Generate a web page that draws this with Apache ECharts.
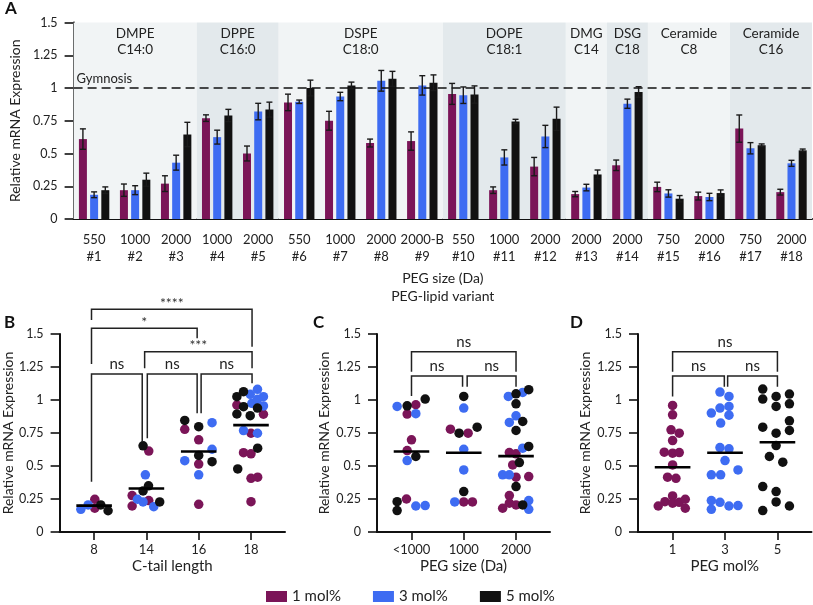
<!DOCTYPE html>
<html>
<head>
<meta charset="utf-8">
<script src="https://cdn.jsdelivr.net/npm/echarts/dist/echarts.min.js"></script>
<style>
html,body{margin:0;padding:0;background:#fff;}
#chart{width:813px;height:605px;}
</style>
</head>
<body>
<div id="chart"></div>
<script>
// ---------------- DATA ----------------
const variantIds = ['#1','#2','#3','#4','#5','#6','#7','#8','#9','#10','#11','#12','#13','#14','#15','#16','#17','#18'];
const pegSizes = ['550','1000','2000','1000','2000','550','1000','2000','2000-B','550','1000','2000','2000','2000','750','2000','750','2000'];
const lipidNames = ['DMPE\nC14:0','DPPE\nC16:0','DSPE\nC18:0','DOPE\nC18:1','DMG\nC14','DSG\nC18','Ceramide\nC8','Ceramide\nC16'];
const lipidFrom = [0,3,5,9,12,13,14,16];
const lipidTo   = [2,4,8,11,12,13,15,17];

// Panel A bar heights (1, 3, 5 mol%) and error half-widths
const a1 = [0.61,0.22,0.27,0.77,0.50,0.89,0.75,0.58,0.595,0.955,0.22,0.40,0.19,0.41,0.245,0.175,0.69,0.205];
const a3 = [0.185,0.22,0.43,0.625,0.82,0.895,0.935,1.055,1.02,0.945,0.47,0.63,0.24,0.88,0.195,0.168,0.54,0.425];
const a5 = [0.22,0.30,0.645,0.79,0.835,1.0,1.02,1.07,1.04,0.95,0.745,0.765,0.34,0.97,0.155,0.198,0.563,0.524];
const e1 = [0.078,0.047,0.06,0.025,0.057,0.063,0.072,0.03,0.07,0.08,0.025,0.07,0.02,0.04,0.036,0.03,0.104,0.022];
const e3 = [0.022,0.034,0.057,0.053,0.063,0.013,0.032,0.079,0.074,0.063,0.058,0.085,0.025,0.035,0.028,0.028,0.043,0.023];
const e5 = [0.025,0.05,0.093,0.047,0.057,0.06,0.025,0.057,0.06,0.066,0.016,0.089,0.034,0.04,0.024,0.024,0.01,0.01];
const gymnosis = 1;

const yTickLabels = ['0','0.25','0.5','0.75','1','1.25','1.5'];

// Panel B: C-tail length, points [x (category units), value]
const tailLabels = ['8','14','16','18'];
const b1 = [[0.013,0.248],[0.013,0.18],[1.045,0.613],[0.727,0.276],[1.045,0.238],[0.727,0.197],[1.733,0.778],[2.0,0.698],[2.0,0.515],[2.0,0.21],[2.73,0.962],[3.238,0.892],[3.0,0.748],[2.857,0.601],[3.0,0.592],[3.0,0.407],[3.127,0.415],[3.0,0.23]];
const b3 = [[-0.254,0.172],[-0.114,0.205],[0.98,0.433],[0.828,0.248],[0.936,0.228],[1.14,0.192],[2.255,0.828],[2.255,0.627],[1.733,0.54],[2.0,0.433],[2.985,1.043],[3.124,1.081],[3.238,1.025],[3.017,0.975],[3.124,1.005],[3.238,0.955],[2.857,0.768],[3.124,0.748]];
const b5 = [[0.127,0.205],[0.267,0.161],[0.936,0.653],[1.04,0.35],[0.936,0.311],[1.254,0.228],[1.733,0.845],[2.0,0.798],[2.0,0.58],[2.255,0.533],[2.73,1.025],[2.857,1.063],[2.857,0.949],[3.124,0.939],[2.73,0.894],[2.985,0.881],[3.127,0.635],[2.746,0.478]];
const meansB = [0.2,0.33,0.61,0.81];
// brackets: [x1, x2, yTop, yLeftEnd, yRightEnd, label]
const bracketsB = [
  [-0.05,3.02,1.687,1.606,1.404,'****'],
  [-0.05,1.97,1.543,1.273,1.467,'*'],
  [0.966,3.02,1.366,1.24,1.24,'***'],
  [-0.05,0.92,1.197,0.381,0.684,'ns'],
  [1.017,1.97,1.197,0.71,0.9,'ns'],
  [2.046,3.02,1.197,0.9,1.127,'ns']
];

// Panel C: PEG size
const sizeLabels = ['<1000','1000','2000'];
const c1 = [[0.083,0.964],[-0.083,0.893],[0,0.698],[-0.083,0.617],[-0.096,0.25],[0.745,0.779],[1.083,0.749],[1,0.228],[1.166,0.228],[1.872,0.602],[2,0.592],[1.936,0.508],[2,0.415],[2.243,0.42],[1.872,0.276],[1.744,0.18],[1.872,0.218],[2,0.205]];
const c3 = [[-0.275,0.951],[0.083,0.896],[-0.083,0.541],[0.083,0.197],[0.262,0.2],[1,0.939],[1,0.627],[1,0.47],[0.827,0.228],[1.853,1.027],[2.128,1.057],[2,0.88],[1.872,0.83],[2.128,0.635],[1.744,0.433],[1.872,0.433],[2.243,0.238],[2.243,0.172]];
const c5 = [[-0.083,0.956],[0.262,1.007],[0.083,0.572],[-0.275,0.23],[-0.275,0.162],[1,1.027],[0.911,0.749],[1.256,0.794],[1,0.306],[2,1.047],[2.243,1.078],[2,0.971],[2.128,0.837],[2,0.769],[2.243,0.648],[2.064,0.526],[2,0.344],[2.128,0.205]];
const meansC = [0.61,0.6,0.575];
const bracketsC = [
  [0,2,1.366,1.214,1.214,'ns'],
  [0,0.977,1.182,1.03,1.10,'ns'],
  [1.065,2,1.182,1.10,1.10,'ns']
];

// Panel D: PEG mol%
const molLabels = ['1','3','5'];
const d1 = [[0,0.959],[0,0.888],[-0.03,0.774],[0.127,0.749],[0,0.693],[-0.159,0.605],[0,0.597],[0.127,0.602],[0,0.508],[-0.096,0.415],[0.064,0.407],[0,0.273],[-0.146,0.23],[0,0.218],[0.127,0.225],[0.242,0.248],[-0.274,0.197],[0.242,0.18]];
const d3 = [[0.904,1.06],[1.076,1.027],[0.904,0.939],[1.076,0.951],[0.739,0.901],[1.076,0.885],[0.917,0.825],[0.904,0.64],[1.076,0.63],[1,0.541],[0.739,0.433],[0.917,0.433],[1.248,0.47],[0.739,0.238],[0.904,0.225],[1.076,0.197],[1.248,0.2],[0.739,0.172]];
const d5 = [[1.72,1.083],[1.72,1.007],[1.975,1.027],[2.229,1.045],[1.975,0.951],[2.229,0.971],[2.229,0.842],[1.72,0.794],[1.975,0.749],[2.229,0.769],[1.975,0.655],[1.847,0.572],[2.102,0.529],[1.72,0.344],[1.975,0.306],[1.975,0.228],[2.229,0.197],[1.72,0.162]];
const meansD = [0.49,0.6,0.68];
const bracketsD = [
  [0,2,1.366,1.214,1.214,'ns'],
  [0,0.987,1.182,1.027,1.10,'ns'],
  [1.05,2,1.182,1.10,1.10,'ns']
];

// ---------------- STYLE ----------------
const FONT = 'Lato, "Open Sans", sans-serif';
const C1 = '#7b1558', C3 = '#3e6cf2', C5 = '#111111';
const INK = '#1a1a1a';
const BAND_LIGHT = '#f1f4f5', BAND_DARK = '#e3e9ec';

const categories = pegSizes.map((p, i) => p + '\n' + variantIds[i]);

function renderBand(params, api) {
  const i = params.dataIndex;
  const w = api.size([1, 0])[0];
  const p0 = api.coord([lipidFrom[i], 1.5]);
  const p1 = api.coord([lipidTo[i], 0]);
  const x0 = p0[0] - w / 2, x1 = p1[0] + w / 2;
  return {
    type: 'group',
    children: [
      { type: 'rect', shape: { x: x0, y: p0[1], width: x1 - x0, height: p1[1] - p0[1] },
        style: { fill: i % 2 ? BAND_DARK : BAND_LIGHT } },
      { type: 'text', style: { text: lipidNames[i], x: (x0 + x1) / 2, y: p0[1] + 3,
        align: 'center', verticalAlign: 'top', fontSize: 13.5, fontFamily: FONT,
        lineHeight: 16, fill: '#222' } }
    ]
  };
}

function makeErr(offset) {
  return function (params, api) {
    const x = api.value(0), v = api.value(1), e = api.value(2);
    const hi = api.coord([x, v + e]), lo = api.coord([x, v - e]);
    const cx = hi[0] + offset;
    const st = { stroke: INK, lineWidth: 1.4 };
    return {
      type: 'group',
      children: [
        { type: 'line', shape: { x1: cx, y1: hi[1], x2: cx, y2: lo[1] }, style: st },
        { type: 'line', shape: { x1: cx - 3, y1: hi[1], x2: cx + 3, y2: hi[1] }, style: st },
        { type: 'line', shape: { x1: cx - 3, y1: lo[1], x2: cx + 3, y2: lo[1] }, style: st }
      ]
    };
  };
}

function renderMean(params, api) {
  const x = api.value(0), m = api.value(1);
  const a = api.coord([x - 0.34, m]), b = api.coord([x + 0.34, m]);
  return { type: 'line', shape: { x1: a[0], y1: a[1], x2: b[0], y2: b[1] },
    style: { stroke: '#000', lineWidth: 2.6 } };
}

function makeBracket(list) {
  return function (params, api) {
    const b = list[params.dataIndex];
    const pL = api.coord([b[0], b[3]]), pTL = api.coord([b[0], b[2]]);
    const pTR = api.coord([b[1], b[2]]), pR = api.coord([b[1], b[4]]);
    const isNs = b[5] === 'ns';
    return {
      type: 'group',
      children: [
        { type: 'polyline', shape: { points: [pL, pTL, pTR, pR] },
          style: { stroke: '#222', lineWidth: 1.5, fill: null } },
        { type: 'text', style: { text: b[5], x: (pTL[0] + pTR[0]) / 2,
          y: isNs ? pTL[1] - 2 : pTL[1] + 1,
          align: 'center', verticalAlign: 'bottom',
          fontSize: isNs ? 15 : 14, fontFamily: FONT, fill: isNs ? '#222' : '#333' } }
      ]
    };
  };
}

function yAx(gi, gap) {
  return {
    gridIndex: gi, type: 'value', min: 0, max: 1.5, interval: 0.25,
    name: 'Relative mRNA Expression', nameLocation: 'middle', nameGap: gap,
    nameTextStyle: { fontSize: 14, color: '#222', fontFamily: FONT },
    axisLine: { show: true, onZero: false, lineStyle: { color: '#111', width: 2 } },
    axisTick: { show: true, length: 9, lineStyle: { color: '#111', width: 1.6 } },
    axisLabel: { fontSize: 12.5, color: '#222', margin: 16, fontFamily: FONT,
      formatter: v => yTickLabels[Math.round(v / 0.25)] },
    splitLine: { show: false }
  };
}

function xVal(gi, n, labels, name) {
  const vals = labels.map((_, i) => i);
  return {
    gridIndex: gi, type: 'value', min: -0.66, max: n - 1 + 0.65,
    name: name, nameLocation: 'middle', nameGap: 27,
    nameTextStyle: { fontSize: 15, color: '#222', fontFamily: FONT },
    splitLine: { show: false },
    axisLine: { show: true, onZero: false, lineStyle: { color: '#111', width: 2 } },
    axisTick: { show: true, customValues: vals, length: 8, lineStyle: { color: '#111', width: 1.6 } },
    axisLabel: { customValues: vals, fontSize: 13, color: '#222', margin: 11, fontFamily: FONT,
      formatter: v => labels[Math.round(v)] }
  };
}

function scat(name, gi, data, color) {
  return { type: 'scatter', name: name, xAxisIndex: gi, yAxisIndex: gi, data: data,
    symbolSize: 9.5, itemStyle: { color: color, opacity: 1 }, z: 3, silent: true };
}
function meanSeries(gi, means) {
  return { type: 'custom', xAxisIndex: gi, yAxisIndex: gi, z: 4, silent: true,
    data: means.map((m, i) => [i, m]), renderItem: renderMean };
}
function bracketSeries(gi, list) {
  return { type: 'custom', xAxisIndex: gi, yAxisIndex: gi, z: 4, silent: true, clip: false,
    data: list.map(b => [b[0], b[2]]), renderItem: makeBracket(list) };
}

const chart = echarts.init(document.getElementById('chart'), null, { renderer: 'canvas' });

const option = {
  animation: false,
  textStyle: { fontFamily: FONT, color: '#222' },
  grid: [
    { left: 59, top: 22.5, width: 753, height: 196.5 },
    { left: 59, top: 334, width: 226, height: 198 },
    { left: 377, top: 334, width: 173, height: 198 },
    { left: 638, top: 334, width: 173.5, height: 198 }
  ],
  xAxis: [
    {
      gridIndex: 0, type: 'category', data: categories,
      axisLine: { lineStyle: { color: '#111', width: 2 } },
      axisTick: { alignWithLabel: true, length: 9, lineStyle: { color: '#111', width: 1.6 } },
      axisLabel: { interval: 0, fontSize: 13, lineHeight: 17, margin: 12, color: '#222', fontFamily: FONT },
      name: 'PEG size (Da)\nPEG-lipid variant', nameLocation: 'middle', nameGap: 50,
      nameTextStyle: { fontSize: 14, lineHeight: 18, color: '#222', fontFamily: FONT }
    },
    xVal(1, 4, tailLabels, 'C-tail length'),
    xVal(2, 3, sizeLabels, 'PEG size (Da)'),
    xVal(3, 3, molLabels, 'PEG mol%')
  ],
  yAxis: [yAx(0, 42), yAx(1, 44), yAx(2, 46), yAx(3, 46)],
  legend: {
    data: [{ name: '1 mol%', icon: 'rect' }, { name: '3 mol%', icon: 'rect' }, { name: '5 mol%', icon: 'rect' }],
    left: 266, top: 589, padding: 0, itemWidth: 21, itemHeight: 11, itemGap: 32,
    selectedMode: false,
    textStyle: { fontSize: 15, color: '#222', fontFamily: FONT }
  },
  graphic: [
    { type: 'text', left: 5, top: 0, style: { text: 'A', fontSize: 17, fontWeight: 'bold', fontFamily: FONT, fill: '#111' } },
    { type: 'text', left: 4, top: 314, style: { text: 'B', fontSize: 17, fontWeight: 'bold', fontFamily: FONT, fill: '#111' } },
    { type: 'text', left: 313, top: 314, style: { text: 'C', fontSize: 17, fontWeight: 'bold', fontFamily: FONT, fill: '#111' } },
    { type: 'text', left: 570, top: 314, style: { text: 'D', fontSize: 17, fontWeight: 'bold', fontFamily: FONT, fill: '#111' } }
  ],
  series: [
    { type: 'custom', xAxisIndex: 0, yAxisIndex: 0, z: 1, silent: true,
      data: lipidFrom.map(f => [f, 0]), renderItem: renderBand },
    { type: 'bar', name: '1 mol%', xAxisIndex: 0, yAxisIndex: 0, data: a1, barWidth: 8, barGap: '40%',
      itemStyle: { color: C1 }, z: 3, silent: true,
      markLine: { symbol: 'none', silent: true, data: [{ yAxis: gymnosis }],
        lineStyle: { type: [9, 5], color: '#111', width: 1.5 },
        label: { formatter: 'Gymnosis', position: 'insideStartTop', fontSize: 13, color: '#222', fontFamily: FONT, distance: [3, 3] } } },
    { type: 'bar', name: '3 mol%', xAxisIndex: 0, yAxisIndex: 0, data: a3, barWidth: 8, barGap: '40%',
      itemStyle: { color: C3 }, z: 3, silent: true },
    { type: 'bar', name: '5 mol%', xAxisIndex: 0, yAxisIndex: 0, data: a5, barWidth: 8, barGap: '40%',
      itemStyle: { color: C5 }, z: 3, silent: true },
    { type: 'custom', xAxisIndex: 0, yAxisIndex: 0, z: 5, silent: true,
      data: a1.map((v, i) => [i, v, e1[i]]), renderItem: makeErr(-11.2) },
    { type: 'custom', xAxisIndex: 0, yAxisIndex: 0, z: 5, silent: true,
      data: a3.map((v, i) => [i, v, e3[i]]), renderItem: makeErr(0) },
    { type: 'custom', xAxisIndex: 0, yAxisIndex: 0, z: 5, silent: true,
      data: a5.map((v, i) => [i, v, e5[i]]), renderItem: makeErr(11.2) },

    scat('1 mol%', 1, b1, C1), scat('3 mol%', 1, b3, C3), scat('5 mol%', 1, b5, C5),
    meanSeries(1, meansB), bracketSeries(1, bracketsB),

    scat('1 mol%', 2, c1, C1), scat('3 mol%', 2, c3, C3), scat('5 mol%', 2, c5, C5),
    meanSeries(2, meansC), bracketSeries(2, bracketsC),

    scat('1 mol%', 3, d1, C1), scat('3 mol%', 3, d3, C3), scat('5 mol%', 3, d5, C5),
    meanSeries(3, meansD), bracketSeries(3, bracketsD)
  ]
};
chart.setOption(option);
</script>
</body>
</html>
